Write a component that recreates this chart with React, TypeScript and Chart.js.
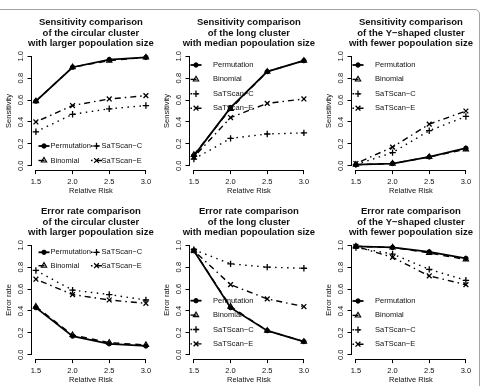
import React, { useEffect, useRef } from "react";
import { Chart, registerables } from "chart.js";

Chart.register(...registerables);

// ---- shared axis values and labels ----
const relativeRisk = [1.5, 2.0, 2.5, 3.0];
const xTickLabels = ["1.5", "2.0", "2.5", "3.0"];
const yTickValues = [0, 0.2, 0.4, 0.6, 0.8, 1.0];
const yTickLabels = ["0.0", "0.2", "0.4", "0.6", "0.8", "1.0"];
const methodNames = ["Permutation", "Binomial", "SaTScan−C", "SaTScan−E"];
const xAxisTitle = "Relative Risk";

// ---- sensitivity ----
const sensCircularPermutation = [0.59, 0.9, 0.97, 0.99];
const sensCircularBinomial = [0.59, 0.9, 0.96, 0.99];
const sensCircularSatscanC = [0.31, 0.47, 0.52, 0.55];
const sensCircularSatscanE = [0.4, 0.55, 0.61, 0.64];

const sensLongPermutation = [0.09, 0.53, 0.86, 0.96];
const sensLongBinomial = [0.1, 0.52, 0.86, 0.96];
const sensLongSatscanC = [0.06, 0.25, 0.29, 0.3];
const sensLongSatscanE = [0.08, 0.44, 0.57, 0.61];

const sensYPermutation = [0.01, 0.02, 0.08, 0.16];
const sensYBinomial = [0.01, 0.02, 0.08, 0.15];
const sensYSatscanC = [0.01, 0.12, 0.32, 0.45];
const sensYSatscanE = [0.02, 0.17, 0.38, 0.5];

// ---- error rate ----
const errCircularPermutation = [0.43, 0.17, 0.1, 0.08];
const errCircularBinomial = [0.44, 0.18, 0.11, 0.09];
const errCircularSatscanC = [0.77, 0.59, 0.55, 0.5];
const errCircularSatscanE = [0.69, 0.55, 0.5, 0.47];

const errLongPermutation = [0.95, 0.43, 0.22, 0.12];
const errLongBinomial = [0.95, 0.44, 0.22, 0.12];
const errLongSatscanC = [0.96, 0.83, 0.8, 0.79];
const errLongSatscanE = [0.95, 0.64, 0.51, 0.44];

const errYPermutation = [0.99, 0.98, 0.94, 0.88];
const errYBinomial = [0.99, 0.98, 0.93, 0.87];
const errYSatscanC = [0.98, 0.92, 0.78, 0.68];
const errYSatscanE = [0.99, 0.89, 0.72, 0.64];

// ---- titles ----
const titleSensCircular = ["Sensitivity comparison", "of the circular cluster", "with larger popoulation size"];
const titleSensLong = ["Sensitivity comparison", "of the long cluster", "with median popoulation size"];
const titleSensY = ["Sensitivity comparison", "of the Y−shaped cluster", "with fewer popoulation size"];
const titleErrCircular = ["Error rate comparison", "of the circular cluster", "with larger popoulation size"];
const titleErrLong = ["Error rate comparison", "of the long cluster", "with median popoulation size"];
const titleErrY = ["Error rate comparison", "of the Y−shaped cluster", "with fewer popoulation size"];

// ---- drawing style ----
const FONT = '"Liberation Sans", Arial, Helvetica, sans-serif';
const INK = "#000";
const TEXT = "#111";

const CANVAS_W = 162;
const CANVAS_H = 197;
const COL_LEFT = [0, 158, 320];
const ROW_TOP = [0, 189];

// plot region inside a panel canvas
const PLOT = { left: 31.5, right: 150.3, top: 51.9, bottom: 170.1 };
const TITLE_Y = [22.7, 33.3, 43.3];
const X_LABEL_Y = 181.7;
const X_TITLE_Y = 191;
const Y_TITLE_X = 9;
const Y_LABEL_X = 20.7;
const TICK_LEN = 4;
const AXIS_FONT = 7.5;
const LEGEND_FONT = 7.5;
const LEGEND_SEG = 5.5;

type MethodStyle = {
  pointStyle: "circle" | "triangle" | "cross" | "crossRot";
  radius: number;
  filled: boolean;
  pointWidth: number;
  width: number;
  dash: number[];
};

const methodStyles: MethodStyle[] = [
  { pointStyle: "circle", radius: 2.2, filled: true, pointWidth: 1, width: 1.8, dash: [] },
  { pointStyle: "triangle", radius: 3.1, filled: false, pointWidth: 1.1, width: 1.4, dash: [6, 5] },
  { pointStyle: "cross", radius: 3.2, filled: false, pointWidth: 1.3, width: 1.4, dash: [1.5, 4.5] },
  { pointStyle: "crossRot", radius: 3.4, filled: false, pointWidth: 1.3, width: 1.4, dash: [1.5, 4, 6, 4] },
];

type LegendPos = { x: number; y: number; tx: number };

// two-column legends (order: Permutation, Binomial, SaTScan−C, SaTScan−E)
const legendTwoColLow: LegendPos[] = [
  { x: 44, y: 146, tx: 50.5 },
  { x: 44, y: 160.5, tx: 50.5 },
  { x: 96.5, y: 146, tx: 101.5 },
  { x: 96.5, y: 160.5, tx: 101.5 },
];
const legendTwoColHigh: LegendPos[] = [
  { x: 44, y: 63.3, tx: 50.5 },
  { x: 44, y: 76.7, tx: 50.5 },
  { x: 96.5, y: 63.3, tx: 101.5 },
  { x: 96.5, y: 76.7, tx: 101.5 },
];
const oneCol = (top: number): LegendPos[] =>
  [0, 1, 2, 3].map((i) => ({ x: 38, y: top + i * 14.4, tx: 55 }));

type PanelSpec = {
  title: string[];
  yTitle: string;
  series: number[][];
  legend: LegendPos[];
  col: number;
  row: number;
};

const panels: PanelSpec[] = [
  {
    title: titleSensCircular,
    yTitle: "Sensitivity",
    series: [sensCircularPermutation, sensCircularBinomial, sensCircularSatscanC, sensCircularSatscanE],
    legend: legendTwoColLow,
    col: 0,
    row: 0,
  },
  {
    title: titleSensLong,
    yTitle: "Sensitivity",
    series: [sensLongPermutation, sensLongBinomial, sensLongSatscanC, sensLongSatscanE],
    legend: oneCol(65),
    col: 1,
    row: 0,
  },
  {
    title: titleSensY,
    yTitle: "Sensitivity",
    series: [sensYPermutation, sensYBinomial, sensYSatscanC, sensYSatscanE],
    legend: oneCol(65),
    col: 2,
    row: 0,
  },
  {
    title: titleErrCircular,
    yTitle: "Error rate",
    series: [errCircularPermutation, errCircularBinomial, errCircularSatscanC, errCircularSatscanE],
    legend: legendTwoColHigh,
    col: 0,
    row: 1,
  },
  {
    title: titleErrLong,
    yTitle: "Error rate",
    series: [errLongPermutation, errLongBinomial, errLongSatscanC, errLongSatscanE],
    legend: oneCol(111.7),
    col: 1,
    row: 1,
  },
  {
    title: titleErrY,
    yTitle: "Error rate",
    series: [errYPermutation, errYBinomial, errYSatscanC, errYSatscanE],
    legend: oneCol(112),
    col: 2,
    row: 1,
  },
];

function drawMarker(ctx: CanvasRenderingContext2D, st: MethodStyle, x: number, y: number) {
  ctx.save();
  ctx.setLineDash([]);
  ctx.strokeStyle = INK;
  ctx.fillStyle = INK;
  ctx.lineWidth = st.pointWidth;
  ctx.beginPath();
  const r = st.radius;
  if (st.pointStyle === "circle") {
    ctx.arc(x, y, r, 0, Math.PI * 2);
    ctx.fill();
    ctx.stroke();
  } else if (st.pointStyle === "triangle") {
    let rad = 0;
    ctx.moveTo(x + Math.sin(rad) * r, y - Math.cos(rad) * r);
    rad += (Math.PI * 2) / 3;
    ctx.lineTo(x + Math.sin(rad) * r, y - Math.cos(rad) * r);
    rad += (Math.PI * 2) / 3;
    ctx.lineTo(x + Math.sin(rad) * r, y - Math.cos(rad) * r);
    ctx.closePath();
    ctx.stroke();
  } else {
    const rad = st.pointStyle === "crossRot" ? Math.PI / 4 : 0;
    const c = Math.cos(rad) * r;
    const s = Math.sin(rad) * r;
    ctx.moveTo(x - c, y - s);
    ctx.lineTo(x + c, y + s);
    ctx.moveTo(x + s, y - c);
    ctx.lineTo(x - s, y + c);
    ctx.stroke();
  }
  ctx.restore();
}

function makeDecor(panel: PanelSpec) {
  return {
    id: "panelDecor",
    afterDatasetsDraw(chart: any) {
      const { ctx, chartArea: a, scales } = chart;
      const xs = scales.x;
      const ys = scales.y;
      const crisp = (v: number) => Math.round(v - 0.5) + 0.5;
      ctx.save();

      // axis lines from first to last tick
      ctx.strokeStyle = INK;
      ctx.lineWidth = 1;
      ctx.setLineDash([]);
      ctx.beginPath();
      const ax = crisp(a.left);
      ctx.moveTo(ax, ys.getPixelForValue(yTickValues[0]));
      ctx.lineTo(ax, ys.getPixelForValue(yTickValues[yTickValues.length - 1]));
      const ay = crisp(a.bottom);
      ctx.moveTo(xs.getPixelForValue(relativeRisk[0]), ay);
      ctx.lineTo(xs.getPixelForValue(relativeRisk[relativeRisk.length - 1]), ay);
      ctx.stroke();

      // three-line bold title centred over the plot region
      ctx.fillStyle = TEXT;
      ctx.font = `bold 9.5px ${FONT}`;
      ctx.textAlign = "center";
      ctx.textBaseline = "middle";
      const cx = (a.left + a.right) / 2;
      panel.title.forEach((line, i) => ctx.fillText(line, cx, TITLE_Y[i]));

      // legend without a box
      ctx.font = `${LEGEND_FONT}px ${FONT}`;
      ctx.textAlign = "left";
      panel.legend.forEach((pos, i) => {
        const st = methodStyles[i];
        ctx.save();
        ctx.strokeStyle = INK;
        ctx.lineWidth = st.width;
        ctx.setLineDash(st.dash);
        ctx.beginPath();
        ctx.moveTo(pos.x - LEGEND_SEG, pos.y);
        ctx.lineTo(pos.x + LEGEND_SEG, pos.y);
        ctx.stroke();
        ctx.restore();
        drawMarker(ctx, st, pos.x, pos.y);
        ctx.fillStyle = TEXT;
        ctx.fillText(methodNames[i], pos.tx, pos.y);
      });
      ctx.restore();
    },
  };
}

function Panel({ panel }: { panel: PanelSpec }) {
  const ref = useRef<HTMLCanvasElement>(null);
  useEffect(() => {
    const canvas = ref.current;
    if (!canvas) return;
    const axisFont = { family: FONT, size: AXIS_FONT, lineHeight: 1.2 };
    const half = (AXIS_FONT * 1.2) / 2;
    const datasets = panel.series.map((values, i) => {
      const st = methodStyles[i];
      return {
        label: methodNames[i],
        data: relativeRisk.map((x, j) => ({ x, y: values[j] })),
        borderColor: INK,
        borderWidth: st.width,
        borderDash: st.dash,
        backgroundColor: INK,
        fill: false,
        tension: 0,
        pointStyle: st.pointStyle,
        pointRadius: st.radius,
        pointBorderWidth: st.pointWidth,
        pointBorderColor: INK,
        pointBackgroundColor: st.filled ? INK : "rgba(0,0,0,0)",
      };
    });
    const chart = new Chart(canvas, {
      type: "line",
      data: { datasets },
      options: {
        responsive: false,
        animation: false,
        devicePixelRatio: 1,
        events: [],
        layout: {
          padding: { left: 0, top: PLOT.top, right: CANVAS_W - PLOT.right, bottom: 0 },
        },
        plugins: {
          legend: { display: false },
          tooltip: { enabled: false },
          title: { display: false },
        },
        scales: {
          x: {
            type: "linear",
            position: "bottom",
            min: 1.44,
            max: 3.06,
            afterBuildTicks: (s: any) => {
              s.ticks = relativeRisk.map((value) => ({ value }));
            },
            afterFit: (s: any) => {
              s.height = CANVAS_H - PLOT.bottom;
              s.paddingLeft = 0;
              s.paddingRight = 0;
            },
            ticks: {
              autoSkip: false,
              maxRotation: 0,
              minRotation: 0,
              color: TEXT,
              font: axisFont,
              padding: X_LABEL_Y - PLOT.bottom - TICK_LEN - half,
              callback: (_v: any, i: number) => xTickLabels[i],
            },
            grid: {
              drawOnChartArea: false,
              drawTicks: true,
              tickLength: TICK_LEN,
              color: INK,
              lineWidth: 1,
            },
            border: { display: false },
            title: {
              display: true,
              text: xAxisTitle,
              color: TEXT,
              font: axisFont,
              padding: { top: 0, bottom: CANVAS_H - X_TITLE_Y - half },
            },
          },
          y: {
            type: "linear",
            position: "left",
            min: -0.04,
            max: 1.04,
            afterBuildTicks: (s: any) => {
              s.ticks = yTickValues.map((value) => ({ value }));
            },
            afterFit: (s: any) => {
              s.width = PLOT.left;
              s.paddingTop = 0;
              s.paddingBottom = 0;
            },
            ticks: {
              autoSkip: false,
              minRotation: 90,
              maxRotation: 90,
              crossAlign: "center",
              color: TEXT,
              font: axisFont,
              padding: PLOT.left - TICK_LEN - 5.2 - Y_LABEL_X,
              callback: (_v: any, i: number) => yTickLabels[i],
            },
            grid: {
              drawOnChartArea: false,
              drawTicks: true,
              tickLength: TICK_LEN,
              color: INK,
              lineWidth: 1,
            },
            border: { display: false },
            title: {
              display: true,
              text: panel.yTitle,
              color: TEXT,
              font: axisFont,
              padding: { top: Y_TITLE_X - half, bottom: 0 },
            },
          },
        },
      } as any,
      plugins: [makeDecor(panel)],
    });
    return () => chart.destroy();
  }, [panel]);

  return (
    <canvas
      ref={ref}
      width={CANVAS_W}
      height={CANVAS_H}
      style={{
        position: "absolute",
        left: COL_LEFT[panel.col],
        top: ROW_TOP[panel.row],
        width: CANVAS_W,
        height: CANVAS_H,
      }}
    />
  );
}

export default function App() {
  return (
    <div
      style={{
        position: "absolute",
        left: 0,
        top: 0,
        width: 482,
        height: 386,
        overflow: "hidden",
        background: "#fff",
      }}
    >
      <div
        style={{
          position: "absolute",
          left: -5,
          top: 9,
          width: 485,
          height: 400,
          boxSizing: "border-box",
          border: "1px solid #a3a3a3",
          borderTopRightRadius: 5,
        }}
      />
      {panels.map((p, i) => (
        <Panel key={i} panel={p} />
      ))}
    </div>
  );
}
